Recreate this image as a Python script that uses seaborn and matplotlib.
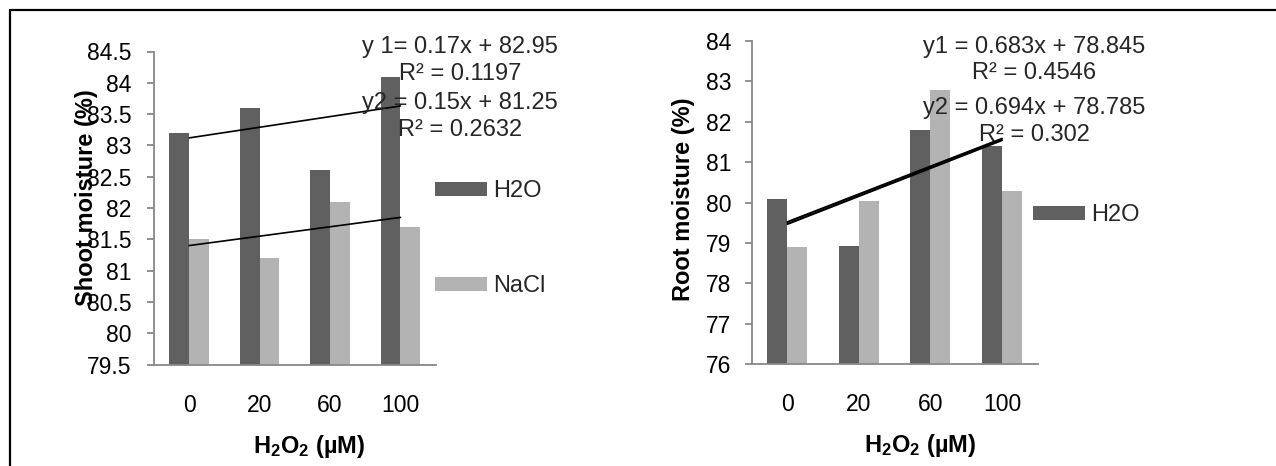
import numpy as np
import pandas as pd
import matplotlib
matplotlib.use("Agg")
import matplotlib.pyplot as plt
import seaborn as sns
from matplotlib.patches import Patch
from matplotlib.lines import Line2D

# ---------------- data ----------------
categories = ["0", "20", "60", "100"]
treatments = ["H2O", "NaCl"]
shoot_h2o = [83.2, 83.6, 82.6, 84.1]
shoot_nacl = [81.5, 81.2, 82.1, 81.7]
root_h2o = [80.08, 78.92, 81.80, 81.41]
root_nacl = [78.91, 80.04, 82.78, 80.30]

shoot_eq = ["y 1= 0.17x + 82.95", "R² = 0.1197", "y2 = 0.15x + 81.25", "R² = 0.2632"]
root_eq = ["y1 = 0.683x + 78.845", "R² = 0.4546", "y2 = 0.694x + 78.785", "R² = 0.302"]
shoot_ticks = [79.5, 80, 80.5, 81, 81.5, 82, 82.5, 83, 83.5, 84, 84.5]
root_ticks = [76, 77, 78, 79, 80, 81, 82, 83, 84]
shoot_ylabel = "Shoot moisture (%)"
root_ylabel = "Root moisture (%)"
xlabel = r"$\mathbf{H_2O_2}$ (µM)"

# ---------------- style ----------------
sns.set_theme(style="white")
plt.rcParams['font.family'] = ['Liberation Sans', 'DejaVu Sans']
plt.rcParams['mathtext.fontset'] = 'custom'
plt.rcParams['mathtext.rm'] = 'Liberation Sans'
plt.rcParams['mathtext.bf'] = 'Liberation Sans:bold'
plt.rcParams['mathtext.it'] = 'Liberation Sans:italic'

W, H = 1276, 466
fig = plt.figure(figsize=(W / 100, H / 100), dpi=100)
fig.patch.set_facecolor("white")


def frac_box(x0, y0, x1, y1):
    return [x0 / W, 1 - y1 / H, (x1 - x0) / W, (y1 - y0) / H]


ax1 = fig.add_axes(frac_box(154, 51.5, 435.7, 364.5))
ax2 = fig.add_axes(frac_box(751.7, 41, 1037.7, 364.3))

palette = {"H2O": "#606060", "NaCl": "#b3b3b3"}
axis_grey = "#888888"


def long_df(h2o, nacl):
    return pd.DataFrame({
        "dose": categories * 2,
        "treat": [treatments[0]] * len(h2o) + [treatments[1]] * len(nacl),
        "value": list(h2o) + list(nacl),
    })


def draw(ax, h2o, nacl, ticks, ylabel, ylab_xy, xlab_xy, ypad, trend_lw):
    df = long_df(h2o, nacl)
    sns.barplot(data=df, x="dose", y="value", hue="treat", order=categories,
                hue_order=treatments, palette=palette, width=0.56, gap=0,
                saturation=1, errorbar=None, linewidth=0, legend=False, ax=ax)
    pos = np.arange(len(categories))
    for vals in (h2o, nacl):
        sns.regplot(x=pos, y=np.array(vals), ax=ax, scatter=False, ci=None,
                    truncate=True, color="black", line_kws={"lw": trend_lw})
    ax.set_xlim(-0.5, len(categories) - 0.5)
    ax.set_ylim(ticks[0], ticks[-1])
    ax.set_yticks(ticks)
    ax.set_yticklabels([f"{t:g}" for t in ticks])
    ax.set_xticks(pos)
    ax.set_xticklabels(categories)
    sns.despine(ax=ax)
    for s in ("left", "bottom"):
        ax.spines[s].set_color(axis_grey)
        ax.spines[s].set_linewidth(1.3)
    ax.tick_params(axis="y", length=5, width=1.3, color=axis_grey, pad=ypad,
                   labelsize=16.5, labelcolor="black", left=True)
    ax.tick_params(axis="x", length=0, pad=21, labelsize=16.5, labelcolor="black")
    ax.set_ylabel(ylabel, fontsize=17, fontweight="bold", va="center", color="black")
    ax.yaxis.set_label_coords(*ylab_xy)
    ax.set_xlabel(xlabel, fontsize=17, fontweight="bold", va="center", color="black")
    ax.xaxis.set_label_coords(*xlab_xy)
    ax.grid(False)


draw(ax1, shoot_h2o, shoot_nacl, shoot_ticks, shoot_ylabel,
     (-0.238, 0.532), (0.552, -0.262), 11, 1.2)
draw(ax2, root_h2o, root_nacl, root_ticks, root_ylabel,
     (-0.238, 0.511), (0.5885, -0.25), 9.5, 1.5)

# ---------------- legends ----------------
handles = [Patch(facecolor=palette[t], edgecolor="none") for t in treatments]
leg_kw = dict(frameon=False, fontsize=17, handlelength=2.19, handleheight=0.54,
              handletextpad=0.27, borderpad=0, borderaxespad=0,
              bbox_transform=fig.transFigure, loc="center left")
ax1.legend(handles, treatments, bbox_to_anchor=(435 / W, 1 - 238.9 / H),
           labelspacing=3.1, **leg_kw)
ax2.legend(handles[:1], treatments[:1], bbox_to_anchor=(1033.3 / W, 1 - 215.5 / H),
           **leg_kw)

# ---------------- equation texts ----------------
for s, yb in zip(shoot_eq, [53.5, 80, 109, 136]):
    fig.text(460 / W, 1 - yb / H, s, ha="center", va="baseline", fontsize=17)
for s, yb in zip(root_eq, [52.5, 79, 114, 141]):
    fig.text(1034 / W, 1 - yb / H, s, ha="center", va="baseline", fontsize=17)

# ---------------- frame lines ----------------
fig.add_artist(Line2D([10 / W, 1], [1 - 10 / H, 1 - 10 / H], color="black",
                      lw=1.6, transform=fig.transFigure))
fig.add_artist(Line2D([10 / W, 10 / W], [1 - 10 / H, 0], color="black",
                      lw=1.6, transform=fig.transFigure))

fig.savefig("out.png", dpi=100, facecolor="white")
